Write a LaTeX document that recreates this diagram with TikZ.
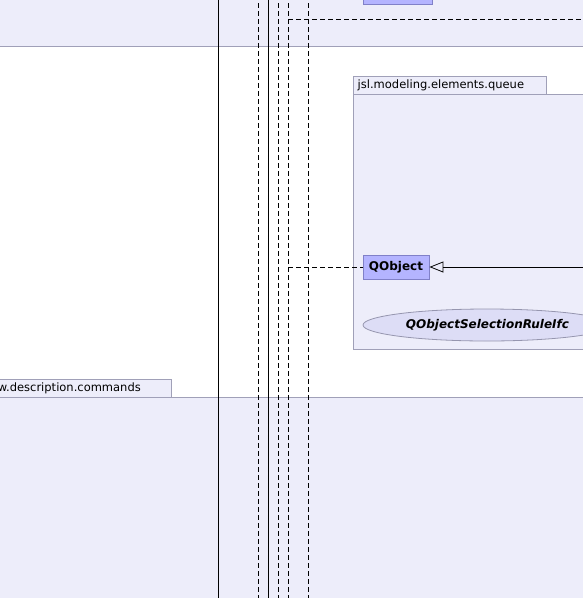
\documentclass[tikz,border=0pt]{standalone}
\usepackage{fontspec}
\setmainfont{DejaVu Sans}
\usetikzlibrary{shapes.geometric,arrows.meta}
\definecolor{pkgfill}{RGB}{237,237,250}
\definecolor{pkgline}{RGB}{160,160,184}
\definecolor{clsfill}{RGB}{180,180,255}
\definecolor{clsline}{RGB}{128,128,200}
\definecolor{ellfill}{RGB}{221,221,246}
\definecolor{ellline}{RGB}{150,150,175}
\tikzset{
  pkgbody/.style={fill=pkgfill,draw=pkgline,line width=0.8pt},
  pkgtab/.style={fill=pkgfill,draw=pkgline,line width=0.8pt},
  pkglabel/.style={font=\fontsize{11.5}{13}\selectfont,inner sep=0pt},
  clsbox/.style={draw=clsline,fill=clsfill,line width=0.8pt,inner sep=0pt,
    minimum width=66pt,minimum height=24pt,font=\fontsize{12}{14}\selectfont\bfseries},
  ifcell/.style={ellipse,draw=ellline,fill=ellfill,line width=0.8pt,inner sep=0pt,
    minimum width=248pt,minimum height=32pt},
  ifctext/.style={font=\fontsize{12}{14}\selectfont\bfseries\itshape,inner sep=0pt},
  solidline/.style={draw=black,line width=0.8pt},
  dashline/.style={draw=black,line width=0.8pt,dash pattern=on 5pt off 3pt},
}
\begin{document}
\begin{tikzpicture}[x=1pt,y=-1pt]
\useasboundingbox (0,0) rectangle (583,598);
\clip (0,0) rectangle (583,598);
\fill[white] (0,0) rectangle (583,598);
% top package band
\path[pkgbody] (-10,-10) rectangle (600,46.5);
% top class box (cut)
\path[draw=clsline,fill=clsfill,line width=0.8pt] (363,-10) rectangle (432,4);
% bottom package
\path[pkgbody] (-10,397) rectangle (600,610);
\path[pkgtab] (-10,379.5) rectangle (171,397);
\node[pkglabel,anchor=east] (cmdlabel) at (141,388.5) {w.description.commands};
% queue package
\path[pkgbody] (353,94.5) rectangle (600,349.5);
\path[pkgtab] (353,76.5) rectangle (546.5,94.5);
\node[pkglabel,anchor=west] (queuelabel) at (357.5,85.5) {jsl.modeling.elements.queue};
% classes
\node[clsbox] (qobject) at (396,267) {QObject};
\node[ifcell] (ifc) at (487,325) {};
\node[ifctext] (ifctxt) at (487.5,325.5) {QObjectSelectionRuleIfc};
% vertical lines
\foreach \x/\s in {218/solidline,258/dashline,268/solidline,278/dashline,288/dashline,308/dashline}{
  \coordinate (t\x) at (\x,-5);
  \coordinate (b\x) at (\x,605);
  \draw[\s] (t\x) -- (b\x);
}
% branches
\coordinate (j1) at (288,19.5);
\coordinate (e1) at (590,19.5);
\draw[dashline] (j1) -- (e1);
\coordinate (j2) at (288,267);
\draw[dashline] (j2) -- (qobject.west);
\coordinate (e2) at (590,267);
\draw[solidline,-{Triangle[open,length=14pt,width=11pt,line width=0.8pt]}] (e2) -- (qobject.east);
\end{tikzpicture}
\end{document}
